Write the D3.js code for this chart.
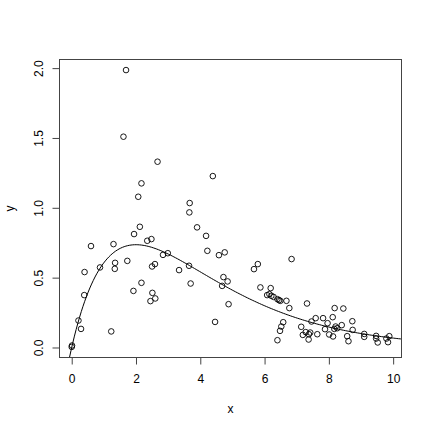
<!DOCTYPE html>
<html>
<head>
<meta charset="utf-8">
<script src="https://cdn.jsdelivr.net/npm/d3@7"></script>
<style>
  body { margin: 0; background: #fff; }
  svg { display: block; }
  text { font-family: "Liberation Sans", Arial, sans-serif; font-size: 12px; fill: #000; }
</style>
</head>
<body>
<svg width="432" height="432"></svg>
<script>
// scatter values
const xValues = [0.01, 0.00, 0.21, 0.29, 0.39, 0.40, 0.60, 0.88, 1.23, 1.30,
  1.35, 1.34, 1.61, 1.69, 1.73, 1.92, 1.94, 2.07, 2.12, 2.17,
  2.17, 2.35, 2.48, 2.50, 2.59, 2.51, 2.60, 2.45, 2.67, 2.84,
  2.99, 3.34, 3.65, 3.70, 3.67, 3.66, 3.90, 4.18, 4.22, 4.39,
  4.46, 4.58, 4.76, 4.72, 4.85, 4.68, 4.88, 5.67, 5.79, 5.87,
  6.19, 6.08, 6.15, 6.21, 6.28, 6.40, 6.45, 6.49, 6.68, 6.77,
  6.84, 6.58, 6.52, 6.48, 6.40, 7.32, 7.14, 7.19, 7.28, 7.42,
  7.38, 7.37, 7.46, 7.59, 7.64, 7.82, 7.88, 7.96, 8.01, 8.12,
  8.13, 8.18, 8.21, 8.26, 8.17, 8.40, 8.45, 8.57, 8.61, 8.73,
  8.74, 9.10, 9.10, 9.47, 9.47, 9.52, 9.79, 9.88, 9.84]
const yValues = [0.014, 0.004, 0.193, 0.133, 0.375, 0.540, 0.726, 0.573, 0.115, 0.740,
  0.606, 0.563, 1.509, 1.986, 0.620, 0.405, 0.812, 1.079, 0.864, 1.175,
  0.463, 0.764, 0.776, 0.580, 0.597, 0.391, 0.351, 0.332, 1.330, 0.663,
  0.675, 0.554, 0.585, 0.458, 1.034, 0.967, 0.860, 0.799, 0.692, 1.227,
  0.183, 0.661, 0.681, 0.504, 0.473, 0.441, 0.310, 0.561, 0.597, 0.430,
  0.425, 0.375, 0.382, 0.370, 0.362, 0.346, 0.339, 0.334, 0.334, 0.282,
  0.633, 0.181, 0.150, 0.119, 0.052, 0.315, 0.148, 0.090, 0.110, 0.107,
  0.095, 0.057, 0.186, 0.210, 0.095, 0.210, 0.131, 0.174, 0.093, 0.217,
  0.079, 0.282, 0.150, 0.138, 0.133, 0.160, 0.279, 0.081, 0.045, 0.188,
  0.126, 0.097, 0.076, 0.083, 0.064, 0.036, 0.064, 0.081, 0.038]
const xTicks = [0, 2, 4, 6, 8, 10]
const yTicks = [0, 0.5, 1, 1.5, 2]

// fitted curve: y = a * x * exp(-b * x)
const fitA = 1
const fitB = 0.5

const points = xValues.map((x, i) => ({ x: x, y: yValues[i] }))

// plot region, like R's default margins
const plot = { left: 59, right: 402, top: 59, bottom: 358 }

const svg = d3.select("svg")

// R pads the data range by 4% on each side
function pad(ext) {
  const r = ext[1] - ext[0]
  return [ext[0] - 0.04 * r, ext[1] + 0.04 * r]
}

const xScale = d3.scaleLinear()
  .domain(pad(d3.extent(xValues)))
  .range([plot.left, plot.right])

const yScale = d3.scaleLinear()
  .domain(pad(d3.extent(yValues)))
  .range([plot.bottom, plot.top])

// clip for the curve
svg.append("clipPath")
  .attr("id", "clip")
  .append("rect")
  .attr("x", plot.left)
  .attr("y", plot.top)
  .attr("width", plot.right - plot.left)
  .attr("height", plot.bottom - plot.top)

// curve sampled over the whole x range
const xs = d3.range(0, 201).map(i => xScale.domain()[0] + i * (xScale.domain()[1] - xScale.domain()[0]) / 200)
const line = d3.line()
  .x(d => xScale(d))
  .y(d => yScale(fitA * d * Math.exp(-fitB * d)))

svg.append("path")
  .datum(xs)
  .attr("clip-path", "url(#clip)")
  .attr("d", line)
  .attr("fill", "none")
  .attr("stroke", "#000")
  .attr("stroke-width", 1)

// points, open circles
svg.append("g")
  .selectAll("circle")
  .data(points)
  .join("circle")
  .attr("cx", d => xScale(d.x))
  .attr("cy", d => yScale(d.y))
  .attr("r", 2.8)
  .attr("fill", "none")
  .attr("stroke", "#000")
  .attr("stroke-width", 0.9)

// box
svg.append("rect")
  .attr("x", plot.left + 0.5)
  .attr("y", plot.top + 0.5)
  .attr("width", plot.right - plot.left - 1)
  .attr("height", plot.bottom - plot.top - 1)
  .attr("fill", "none")
  .attr("stroke", "#444")
  .attr("stroke-width", 1)

// x axis
const xAxis = svg.append("g")
  .attr("transform", `translate(0, ${plot.bottom - 0.5})`)
  .call(d3.axisBottom(xScale).tickValues(xTicks).tickSize(7).tickPadding(10).tickFormat(d3.format("d")))
xAxis.select(".domain").remove()
xAxis.append("line")
  .attr("x1", xScale(xTicks[0]))
  .attr("x2", xScale(xTicks[xTicks.length - 1]))
  .attr("stroke", "#444")
xAxis.selectAll(".tick line").attr("stroke", "#444")
xAxis.selectAll("text").attr("font-size", 12).attr("font-family", null)

// y axis, labels turned like R's las=0
const yAxis = svg.append("g")
  .attr("transform", `translate(${plot.left + 0.5}, 0)`)
  .call(d3.axisLeft(yScale).tickValues(yTicks).tickSize(7).tickFormat(d3.format(".1f")))
yAxis.select(".domain").remove()
yAxis.append("line")
  .attr("y1", yScale(yTicks[0]))
  .attr("y2", yScale(yTicks[yTicks.length - 1]))
  .attr("stroke", "#444")
yAxis.selectAll(".tick line").attr("stroke", "#444")
yAxis.selectAll(".tick text")
  .attr("x", null)
  .attr("dy", null)
  .attr("text-anchor", "middle")
  .attr("font-size", 12)
  .attr("font-family", null)
  .attr("transform", "translate(-17, 0) rotate(-90)")

// axis titles
svg.append("text")
  .attr("x", (plot.left + plot.right) / 2)
  .attr("y", 413)
  .attr("text-anchor", "middle")
  .text("x")

svg.append("text")
  .attr("transform", `translate(14, ${(plot.top + plot.bottom) / 2}) rotate(-90)`)
  .attr("text-anchor", "middle")
  .text("y")
</script>
</body>
</html>
